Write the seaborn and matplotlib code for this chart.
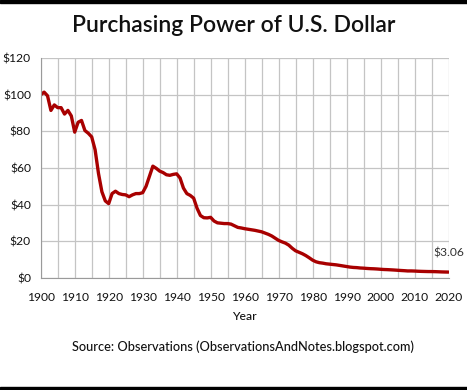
import matplotlib
matplotlib.use('Agg')
import matplotlib.pyplot as plt
import seaborn as sns
from matplotlib.ticker import MultipleLocator, FuncFormatter
from matplotlib.patches import Rectangle

# Valores (1900 = $100)
years = list(range(1900, 2021))
power = [
    100, 101.5, 99.5, 91.5, 94.5, 93, 93, 89.5, 91.5, 88.5,          # 1900s
    79.6, 85, 86, 80.5, 79, 77, 70, 57, 47, 42,                      # 1910s
    40.5, 46, 47.3, 46, 45.5, 45.3, 44.3, 45.3, 46, 46,              # 1920s
    46.5, 50, 55.5, 61, 59.8, 58.3, 57.5, 56.3, 56, 56.5,            # 1930s
    56.8, 54.5, 49, 46, 45, 43.5, 38, 34, 32.8, 32.7,                # 1940s
    33, 31, 30, 29.8, 29.6, 29.6, 29.3, 28.4, 27.5, 27.2,            # 1950s
    26.8, 26.5, 26.2, 25.9, 25.5, 25.1, 24.4, 23.7, 22.8, 21.6,      # 1960s
    20.4, 19.6, 18.9, 17.8, 16.1, 14.7, 13.9, 13.1, 12.1, 10.9,      # 1970s
    9.6, 8.7, 8.2, 7.95, 7.6, 7.4, 7.2, 7.0, 6.7, 6.4,               # 1980s
    6.1, 5.8, 5.6, 5.5, 5.3, 5.2, 5.05, 4.93, 4.86, 4.75,            # 1990s
    4.6, 4.47, 4.4, 4.3, 4.19, 4.06, 3.93, 3.82, 3.68, 3.69,         # 2000s
    3.63, 3.52, 3.45, 3.40, 3.35, 3.34, 3.30, 3.23, 3.15, 3.10,      # 2010s
    3.06,                                                            # 2020
]
last_label = '$3.06'

sns.set_style('white')
plt.rcParams['font.family'] = ['Lato', 'DejaVu Sans']

fig = plt.figure(figsize=(4.67, 3.90), dpi=100)
ax = fig.add_axes([0.0872, 0.288, 0.8732, 0.5625])

sns.lineplot(x=years, y=power, ax=ax, color='#A80000', linewidth=2.4)

ax.set_xlim(1900, 2020)
ax.set_ylim(0, 120)
ax.xaxis.set_major_locator(MultipleLocator(10))
ax.xaxis.set_minor_locator(MultipleLocator(5))
ax.yaxis.set_major_locator(MultipleLocator(20))
ax.yaxis.set_major_formatter(FuncFormatter(lambda v, p: f'${v:.0f}'))

ax.grid(True, which='both', color='#C4C4C4', linewidth=0.9)
ax.set_axisbelow(True)
for s in ['top', 'right']:
    ax.spines[s].set_visible(False)
ax.spines['left'].set_color('#9A9A9A')
ax.spines['bottom'].set_color('#9A9A9A')
ax.tick_params(axis='both', which='both', direction='out', color='#9A9A9A',
               length=4, width=0.8, labelsize=8.7, labelcolor='#111111')
ax.tick_params(axis='x', which='major', pad=6)
ax.tick_params(axis='y', pad=3)

ax.set_xlabel('Year', fontsize=8.7, color='#111111', labelpad=6, fontweight='medium')
ax.set_ylabel('')

ax.text(2020, 13.5, last_label, ha='center', va='center', fontsize=8.7, color='#333333')

fig.text(0.500, 0.935, 'Purchasing Power of U.S. Dollar', ha='center', va='center',
         fontsize=16.5, color='#111111', fontweight='semibold')
fig.text(0.520, 0.110, 'Source: Observations (ObservationsAndNotes.blogspot.com)',
         ha='center', va='center', fontsize=9.2, color='#111111', fontweight='medium')

# bordas pretas em cima e embaixo
fig.patches.append(Rectangle((0, 1 - 3 / 390), 1, 3 / 390, transform=fig.transFigure,
                             color='black', zorder=10))
fig.patches.append(Rectangle((0, 0), 1, 3 / 390, transform=fig.transFigure,
                             color='black', zorder=10))

fig.savefig('out.png', dpi=100)
